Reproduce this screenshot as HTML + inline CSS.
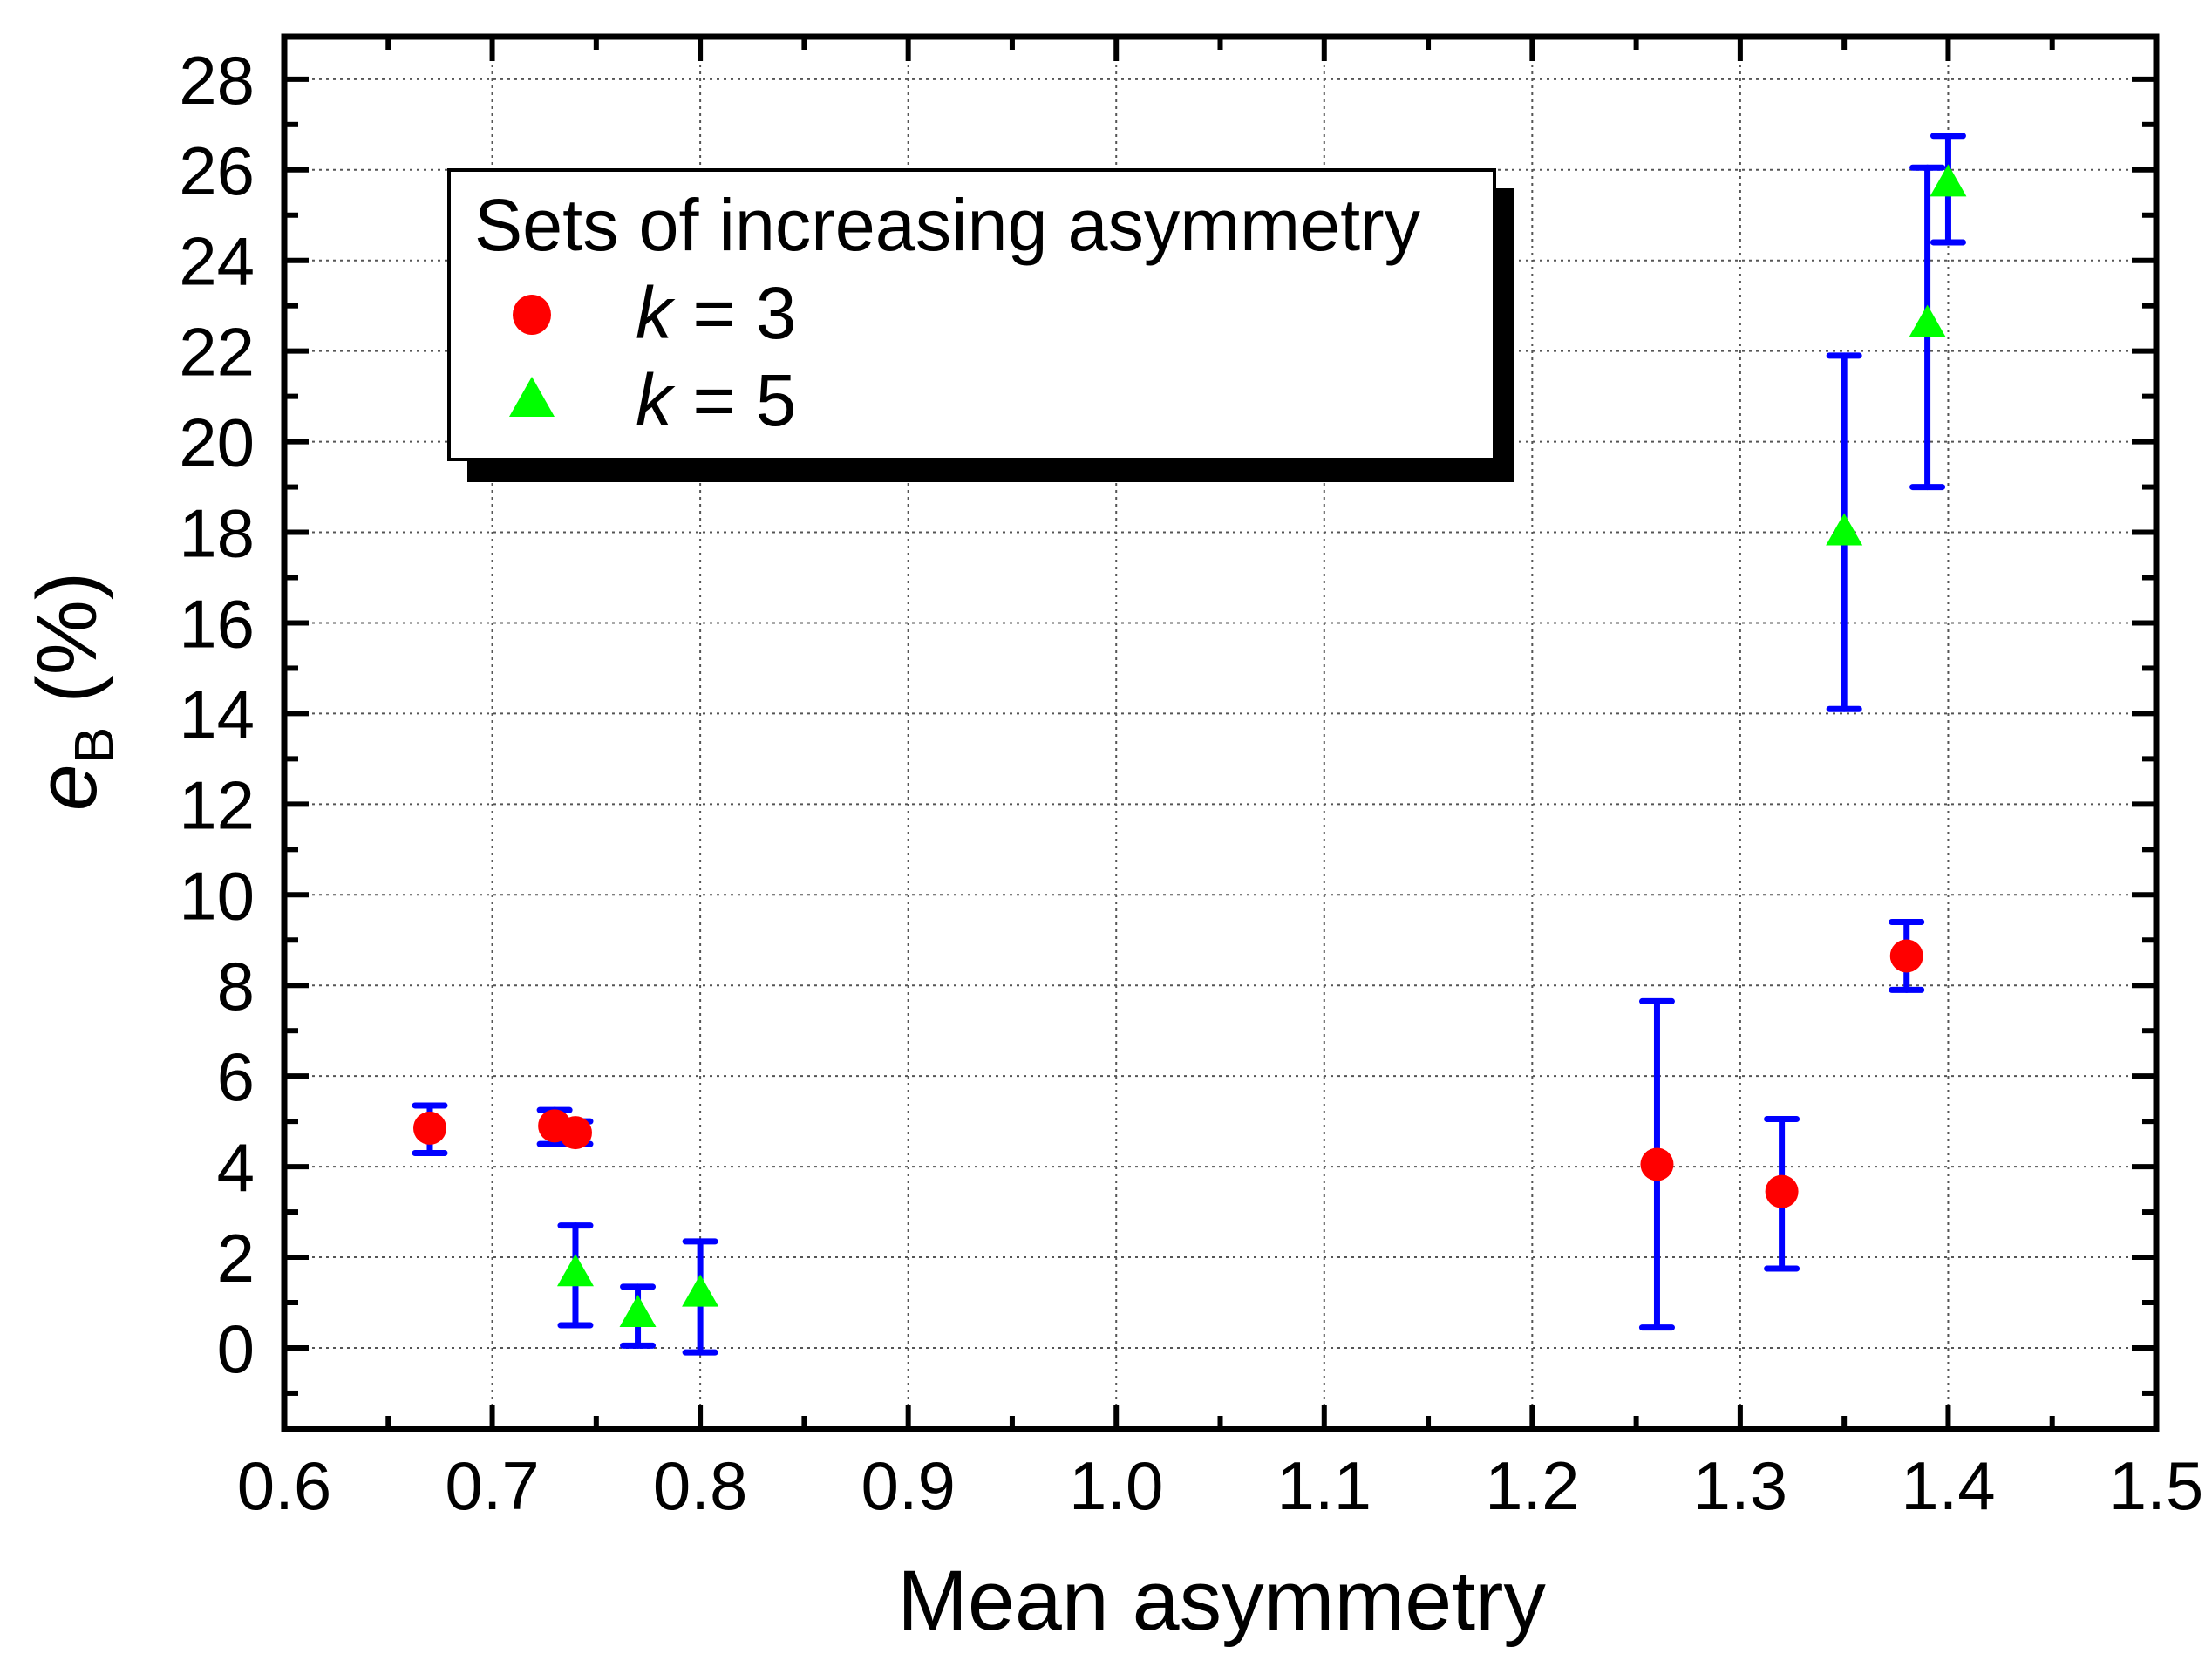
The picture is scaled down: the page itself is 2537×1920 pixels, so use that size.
<!DOCTYPE html>
<html><head><meta charset="utf-8"><style>
html,body{margin:0;padding:0;background:#fff}
svg{display:block}
text{font-family:"Liberation Sans",sans-serif;fill:#000}
</style></head><body>
<svg id="chart" width="2537" height="1920" viewBox="0 0 2537 1920" xmlns="http://www.w3.org/2000/svg">
<rect x="0" y="0" width="2537" height="1920" fill="#fff"/>
<g id="grid"></g>
<g id="series"></g>
<g id="axes"></g>
<g id="legend">
  <rect x="536" y="216" width="1200" height="337" fill="#000"/>
  <rect x="515" y="195" width="1199" height="332" fill="#fff" stroke="#000" stroke-width="4"/>
  <text x="544" y="287" font-size="84" textLength="1085" lengthAdjust="spacingAndGlyphs">Sets of increasing asymmetry</text>
  <ellipse cx="610" cy="361" rx="22" ry="23" fill="#ff0000"/>
  <text x="729" y="388" font-size="84"><tspan font-style="italic">k</tspan> = 3</text>
  <polygon points="610,432 584,478 636,478" fill="#00ff00"/>
  <text x="729" y="488" font-size="84"><tspan font-style="italic">k</tspan> = 5</text>
</g>
<text x="1401" y="1869" font-size="97" text-anchor="middle">Mean asymmetry</text>
<text transform="translate(110,793) rotate(-90)" font-size="97" text-anchor="middle"><tspan font-style="italic">e</tspan><tspan font-size="64" dy="20">B</tspan><tspan dy="-20"> (%)</tspan></text>
</svg>
<script>
const xTicks = [0.6,0.7,0.8,0.9,1.0,1.1,1.2,1.3,1.4,1.5];
const xTickLabels = ["0.6","0.7","0.8","0.9","1.0","1.1","1.2","1.3","1.4","1.5"];
const yTicks = [0,2,4,6,8,10,12,14,16,18,20,22,24,26,28];
const yTickLabels = ["0","2","4","6","8","10","12","14","16","18","20","22","24","26","28"];
const k3X = [0.67,0.73,0.74,1.26,1.32,1.38];
const k3Y = [4.85,4.9,4.75,4.05,3.45,8.65];
const k3Lo = [4.3,4.5,4.5,0.45,1.75,7.9];
const k3Hi = [5.35,5.25,5.0,7.65,5.05,9.4];
const k5X = [0.74,0.77,0.80,1.35,1.39,1.40];
const k5Y = [1.65,0.75,1.2,18.0,22.6,25.7];
const k5Lo = [0.5,0.05,-0.1,14.1,19.0,24.4];
const k5Hi = [2.7,1.35,2.35,21.9,26.05,26.75];

const NS="http://www.w3.org/2000/svg";
const L=326,R=2473,T=42,B=1639;
const xMin=0.6,xMax=1.5,yMin=-1.79,yMax=28.94;
const sx=v=>L+(v-xMin)/(xMax-xMin)*(R-L);
const sy=v=>B-(v-yMin)/(yMax-yMin)*(B-T);
function mk(tag,attrs,parent){const e=document.createElementNS(NS,tag);for(const k in attrs)e.setAttribute(k,attrs[k]);parent.appendChild(e);return e;}
const grid=document.getElementById('grid'),axes=document.getElementById('axes'),series=document.getElementById('series');
xTicks.forEach((v,i)=>{
  if(i>0&&i<xTicks.length-1){const g=mk('line',{x1:sx(v),x2:sx(v),y1:T,y2:B,stroke:'#555','stroke-width':2,'stroke-dasharray':'3,5'},grid);
  
  }
  [B,T].forEach(y0=>{const t=mk('line',{x1:sx(v),x2:sx(v),y1:y0,y2:y0===B?B-28:T+28,stroke:'#000','stroke-width':6},axes);
  
  });
  if(i<xTicks.length-1){const mv=v+0.05;[B,T].forEach(y0=>{const t=mk('line',{x1:sx(mv),x2:sx(mv),y1:y0,y2:y0===B?B-15:T+15,stroke:'#000','stroke-width':6},axes);
  
  });}
  const tx=mk('text',{x:sx(v),y:1731,'font-size':78,'text-anchor':'middle'},axes);tx.textContent=xTickLabels[i];
  
  
});
yTicks.forEach((v,i)=>{
  const g=mk('line',{x1:L,x2:R,y1:sy(v),y2:sy(v),stroke:'#555','stroke-width':2,'stroke-dasharray':'3,5'},grid);
  
  
  [L,R].forEach(x0=>{const t=mk('line',{x1:x0,x2:x0===L?L+28:R-28,y1:sy(v),y2:sy(v),stroke:'#000','stroke-width':6},axes);
  
  });
  const tx=mk('text',{x:292,y:sy(v)+28,'font-size':78,'text-anchor':'end'},axes);tx.textContent=yTickLabels[i];
  
  
});
for(let m=-1;m<=27;m+=2){[L,R].forEach(x0=>{const t=mk('line',{x1:x0,x2:x0===L?L+16:R-16,y1:sy(m),y2:sy(m),stroke:'#000','stroke-width':6},axes);
  
  });}
const frame=mk('rect',{x:L,y:T,width:R-L,height:B-T,fill:'none',stroke:'#000','stroke-width':7},axes);


function errBars(xs,lo,hi,name){xs.forEach((x,i)=>{
  const g=mk('g',{stroke:'#0000ff','stroke-width':7,'stroke-linecap':'round'},series);
  
  
  mk('line',{x1:sx(x),x2:sx(x),y1:sy(lo[i]),y2:sy(hi[i])},g);
  mk('line',{x1:sx(x)-17,x2:sx(x)+17,y1:sy(lo[i]),y2:sy(lo[i])},g);
  mk('line',{x1:sx(x)-17,x2:sx(x)+17,y1:sy(hi[i]),y2:sy(hi[i])},g);
});}
errBars(k3X,k3Lo,k3Hi,'k3');
errBars(k5X,k5Lo,k5Hi,'k5');
k3X.forEach((x,i)=>{const c=mk('circle',{cx:sx(x),cy:sy(k3Y[i]),r:19,fill:'#ff0000'},series);
  
  });
k5X.forEach((x,i)=>{const X=sx(x),Y=sy(k5Y[i]);const p=mk('polygon',{points:`${X},${Y-22} ${X-21},${Y+15} ${X+21},${Y+15}`,fill:'#00ff00'},series);
  
  });
</script>
</body></html>
